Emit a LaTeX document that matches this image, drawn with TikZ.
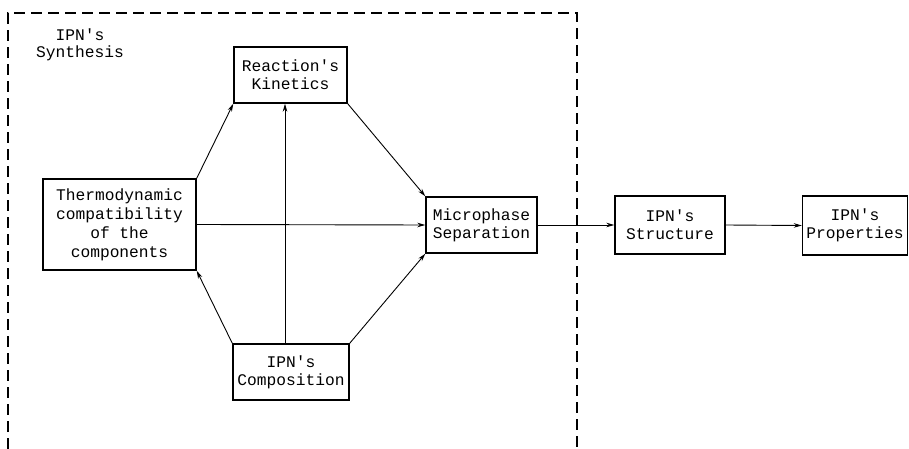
\documentclass[tikz,border=0pt]{standalone}
\usepackage{fontspec}
\setmonofont{Liberation Mono}
\usetikzlibrary{arrows.meta}
\begin{document}
\begin{tikzpicture}[x=1bp,y=-1bp,
  box/.style={draw,line width=1.4bp,align=center,inner sep=0pt,
    font=\ttfamily\fontsize{16.3}{18}\selectfont},
  lbl/.style={align=center,inner sep=0pt,font=\ttfamily\fontsize{16.3}{16.5}\selectfont},
  arr/.style={line width=0.9bp,-{Stealth[length=8bp,width=4.5bp]}},
  frame/.style={line width=1.3bp,dash pattern=on 11bp off 6bp}]
\useasboundingbox (0,0) rectangle (909,449);
\draw[frame] (8,449) -- (8,13) -- (577,13) -- (577,449);
\node[lbl] (synth) at (80,45) {IPN's\\Synthesis};
\node[box,minimum width=113bp,minimum height=56bp] (react) at (290.5,75) {Reaction's\\Kinetics};
\node[box,minimum width=153bp,minimum height=91bp,font=\ttfamily\fontsize{16.3}{19}\selectfont] (thermo) at (119.5,224.5) {Thermodynamic\\compatibility\\of the\\components};
\node[box,minimum width=111bp,minimum height=56bp] (micro) at (481.5,225) {Microphase\\Separation};
\node[box,minimum width=116bp,minimum height=56bp] (comp) at (291,372) {IPN's\\Composition};
\node[box,minimum width=110bp,minimum height=58bp] (struct) at (670,225) {IPN's\\Structure};
\node[box,minimum width=105bp,minimum height=59bp] (props) at (855,225.5) {IPN's\\Properties};
\coordinate (vx) at (285,0);
\draw[arr] (thermo.north east) -- (react.south west);
\draw[arr] (thermo.east) -- (micro.west);
\draw[arr] (comp.north west) -- (thermo.south east);
\draw[arr] (comp.north -| vx) -- (react.south -| vx);
\draw[arr] (react.south east) -- (micro.north west);
\draw[arr] (comp.north east) -- (micro.south west);
\draw[arr] (micro.east) -- (struct.west);
\draw[arr] (struct.east) -- (props.west);
\end{tikzpicture}
\end{document}
